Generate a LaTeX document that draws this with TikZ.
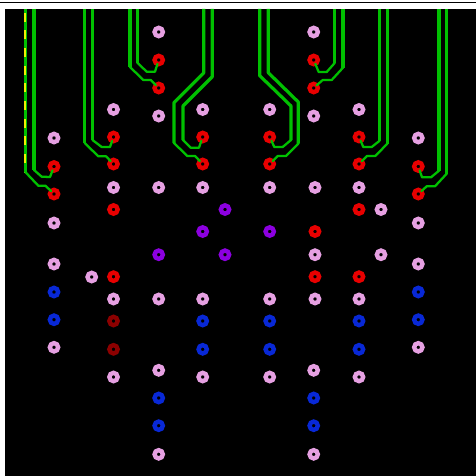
\documentclass[tikz,border=0pt]{standalone}
\definecolor{padpink}{RGB}{230,160,226}
\definecolor{padred}{RGB}{232,0,0}
\definecolor{paddark}{RGB}{140,0,0}
\definecolor{padblue}{RGB}{8,40,214}
\definecolor{padpurple}{RGB}{140,0,224}
\definecolor{trgreen}{RGB}{0,192,0}
\definecolor{tryellow}{RGB}{240,240,0}
\tikzset{
  padbase/.style={circle,draw,fill=black,inner sep=0pt,minimum size=8.3pt,line width=4.4pt,outer sep=0pt},
  pinkpad/.style={padbase,draw=padpink},
  redpad/.style={padbase,draw=padred},
  darkpad/.style={padbase,draw=paddark},
  bluepad/.style={padbase,draw=padblue},
  purplepad/.style={padbase,draw=padpurple},
  widetrace/.style={draw=trgreen,line width=3.2pt,line join=round},
  thintrace/.style={draw=trgreen,line width=2.3pt,line join=round,line cap=round},
  yellowdash/.style={draw=tryellow,line width=2.2pt,dash pattern=on 9pt off 8.65pt}
}
\begin{document}
\begin{tikzpicture}[x=1pt,y=-1pt]
\useasboundingbox (0,0) rectangle (476,476);
\fill[white] (0,0) rectangle (476,476);
\fill[black] (5,9) rectangle (476,476);
\coordinate (ruleL) at (0,2.5);
\coordinate (ruleR) at (476,2.5);
\draw[black,line width=1pt] (ruleL) -- (ruleR);
% pads
\foreach \n/\x/\y in {
 a1/54/138, a4/54/223, a5/54/264, a8/54/347.3,
 b1/113.5/109.5, b4/113.5/187.5, b7/113.5/299, b10/113.5/377,
 e1/91.7/277,
 c1/158.7/32, c4/158.7/116, c5/158.7/187.5, c7/158.7/299, c8/158.7/370.3, c11/158.7/454.3,
 d1/202.7/109.5, d4/202.7/187.5, d6/202.7/299, d9/202.7/377,
 f1/269.7/109.5, f4/269.7/187.5, f6/269.7/299, f9/269.7/377,
 g1/313.7/32, g4/313.7/116, g5/315/187.5, g7/315/254.7, g9/315/299, g10/313.7/370.3, g13/313.7/454.3,
 h1/359/109.5, h4/359/187.5, h7/359/299, h10/359/377,
 i1/381/209.5, i2/381/254.7,
 j1/418.3/138, j4/418.3/223, j5/418.3/264, j8/418.3/347.3}
 \node[pinkpad] (\n) at (\x,\y) {};
\foreach \n/\x/\y in {
 a2/54/166.5, a3/54/194,
 b2/113.5/137, b3/113.5/164, b5/113.5/209.5, b6/113.5/276.7,
 c2/158.7/60, c3/158.7/88,
 d2/202.7/137, d3/202.7/164,
 f2/269.7/137, f3/269.7/164,
 g2/313.7/60, g3/313.7/88, g6/315/231.5, g8/315/276.7,
 h2/359/137, h3/359/164, h5/359/209.5, h6/359/276.7,
 j2/418.3/166.5, j3/418.3/194}
 \node[redpad] (\n) at (\x,\y) {};
\foreach \n/\x/\y in {b8/113.5/321, b9/113.5/349.3}
 \node[darkpad] (\n) at (\x,\y) {};
\foreach \n/\x/\y in {
 a6/54/292, a7/54/319.7,
 c9/158.7/398, c10/158.7/425.7,
 d7/202.7/321, d8/202.7/349.3,
 f7/269.7/321, f8/269.7/349.3,
 g11/313.7/398, g12/313.7/425.7,
 h8/359/321, h9/359/349.3,
 j6/418.3/292, j7/418.3/319.7}
 \node[bluepad] (\n) at (\x,\y) {};
\foreach \n/\x/\y in {
 k1/225/209.5, k2/225/254.7, c6/158.7/254.7, d5/202.7/231.5, f5/269.7/231.5}
 \node[purplepad] (\n) at (\x,\y) {};
% group 1
\draw[widetrace] (25.3,9) -- (25.3,172);
\draw[yellowdash] (25.3,12.7) -- (25.3,172);
\draw[thintrace] (25.3,172) -- (38.3,185.7) -- (45.5,185.7) -- (a3);
\draw[widetrace] (34,9) -- (34,170);
\draw[thintrace] (34,170) -- (41.7,176.7) -- (50,177) -- (a2);
% group 2
\draw[widetrace] (84.7,9) -- (84.7,143);
\draw[thintrace] (84.7,143) -- (98.3,156.3) -- (106,156.3) -- (b3);
\draw[widetrace] (92.5,9) -- (92.5,140);
\draw[thintrace] (92.5,140) -- (101.7,147) -- (110,147) -- (b2);
% group 3
\draw[widetrace] (130,9) -- (130,67);
\draw[thintrace] (130,67) -- (143.3,80) -- (150.7,80) -- (c3);
\draw[widetrace] (137.3,9) -- (137.3,62.7);
\draw[thintrace] (137.3,62.7) -- (146.7,71.7) -- (155,71.7) -- (c2);
% group 4
\draw[widetrace] (203.7,9) -- (203.7,73) -- (174,102.7) -- (174,143);
\draw[thintrace] (174,143) -- (187.3,156) -- (195,156) -- (d3);
\draw[widetrace] (212.3,9) -- (212.3,76.7) -- (183,106) -- (183,140);
\draw[thintrace] (183,140) -- (190.7,147.7) -- (199,147.7) -- (d2);
% group 5
\draw[widetrace] (259.7,9) -- (259.7,75.7) -- (275.3,90.7) -- (291,106) -- (291,140);
\draw[thintrace] (291,140) -- (282.7,147) -- (274.3,147) -- (f2);
\draw[widetrace] (268.3,9) -- (268.3,72.7) -- (298.3,102) -- (298.3,143.7);
\draw[thintrace] (298.3,143.7) -- (286,156) -- (277.7,156) -- (f3);
% group 6
\draw[widetrace] (334.7,9) -- (334.7,63);
\draw[thintrace] (334.7,63) -- (326.7,72) -- (318.7,72) -- (g2);
\draw[widetrace] (343,9) -- (343,67.7);
\draw[thintrace] (343,67.7) -- (331.7,80) -- (322.7,80) -- (g3);
% group 7
\draw[widetrace] (379.7,9) -- (379.7,140.7);
\draw[thintrace] (379.7,140.7) -- (371.7,147) -- (363.3,147) -- (h2);
\draw[widetrace] (387.3,9) -- (387.3,143.7);
\draw[thintrace] (387.3,143.7) -- (375.3,156) -- (367,156) -- (h3);
% group 8
\draw[widetrace] (439,9) -- (439,170.7);
\draw[thintrace] (439,170.7) -- (431,177.3) -- (422,177.3) -- (j2);
\draw[widetrace] (446.7,9) -- (446.7,173.7);
\draw[thintrace] (446.7,173.7) -- (435,186.3) -- (426.7,186.3) -- (j3);
\end{tikzpicture}
\end{document}
